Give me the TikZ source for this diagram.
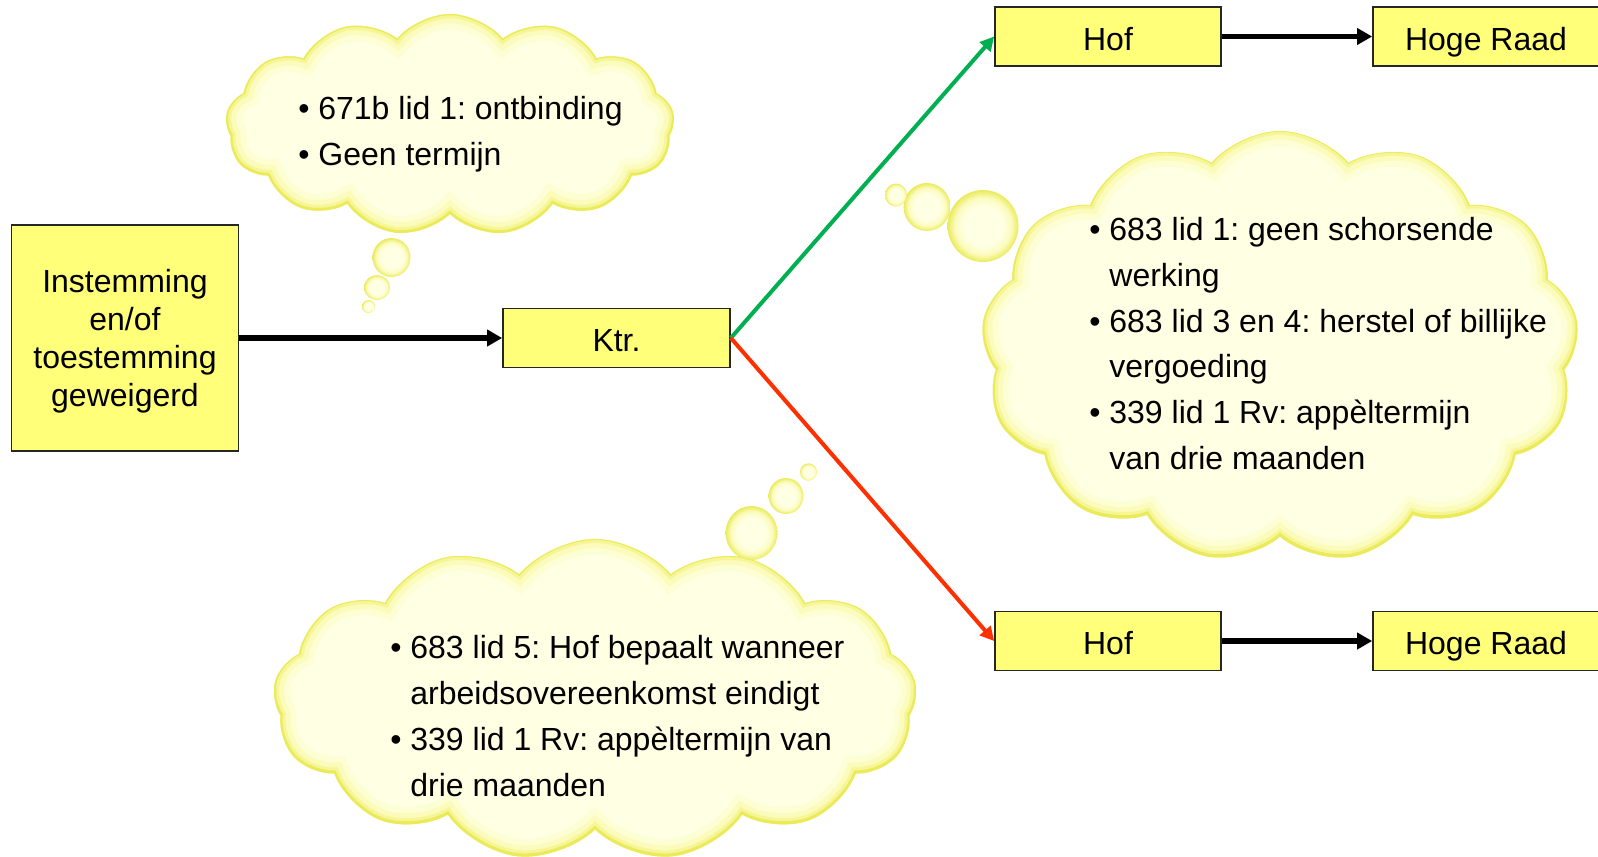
\documentclass[tikz,border=0pt]{standalone}
\usepackage{fontspec}
\setmainfont{Liberation Sans}
\usetikzlibrary{shapes.symbols,arrows.meta}
\definecolor{boxfill}{RGB}{255,255,122}
\definecolor{cpale}{RGB}{255,255,228}
\definecolor{gA}{RGB}{254,254,212}
\definecolor{gB}{RGB}{251,251,188}
\definecolor{gC}{RGB}{246,246,150}
\definecolor{gD}{RGB}{234,234,90}
\definecolor{arrgreen}{RGB}{0,176,80}
\definecolor{arrred}{RGB}{255,48,0}
\pgfdeclareradialshading{bubbleshade}{\pgfpoint{0bp}{0bp}}{color(0bp)=(cpale); color(14bp)=(cpale); color(20bp)=(gB); color(25bp)=(gD); color(50bp)=(gD)}
\newcommand\glowbubble[4]{\shade[shading=bubbleshade] (#1) ellipse[x radius=#2, y radius=#3];}
\tikzset{
  box/.style={draw=black!85, line width=0.85pt, fill=boxfill, inner sep=0pt,
    font=\fontsize{16}{19}\selectfont, align=center},
  onebox/.style={box, minimum width=113pt, minimum height=29.5pt, text height=13.8pt, text depth=0pt},
  cloudbase/.style 2 args={cloud, cloud puffs=13, cloud puff arc=100, cloud ignores aspect,
    minimum width=#1, minimum height=#2, inner sep=0pt, outer sep=0pt},
  glowcloud/.style 2 args={cloudbase={#1}{#2}, fill=cpale, path picture={
    \node[cloudbase={#1}{#2}, draw=gA, line width=16pt] at (path picture bounding box.center) {};
    \node[cloudbase={#1}{#2}, draw=gB, line width=10pt] at (path picture bounding box.center) {};
    \node[cloudbase={#1}{#2}, draw=gC, line width=5pt] at (path picture bounding box.center) {};
    \node[cloudbase={#1}{#2}, draw=gD, line width=2pt] at (path picture bounding box.center) {};
  }},
  cloudtext/.style={anchor=west, align=left, inner sep=0pt,
    font=\fontsize{16}{22.85}\selectfont},
  blackarrow/.style={line width=2.6pt, -{Triangle[length=7.5pt,width=8pt]}},
  colarrow/.style={line width=2pt, -{Triangle[length=7pt,width=7pt]}},
}
\newcommand\bul{\makebox[10pt][l]{\textbullet}}
\newcommand\ind{\hspace*{10pt}}
\frenchspacing
\begin{document}
\begin{tikzpicture}[x=0.5pt,y=-0.5pt]
\useasboundingbox (0,0) rectangle (1598,856);
\clip (0,0) rectangle (1598,856);

% clouds
\node[glowcloud={224.5pt}{111pt}] (c1) at (450,125) {};
\node[glowcloud={299pt}{216pt}] (c2) at (1280,347) {};
\node[glowcloud={322pt}{161pt}] (c3) at (595,700) {};

% thought bubbles
\coordinate (b1a) at (391.5,257.5);
\coordinate (b1b) at (377,287.5);
\coordinate (b1c) at (368.5,306.5);
\glowbubble{b1a}{19}{19.5}{}
\glowbubble{b1b}{13}{12.5}{}
\glowbubble{b1c}{6.5}{6.5}{}
\coordinate (b2a) at (983,226);
\coordinate (b2b) at (927,207);
\coordinate (b2c) at (896,195);
\glowbubble{b2a}{35.5}{36}{}
\glowbubble{b2b}{23.5}{24}{}
\glowbubble{b2c}{11}{11.5}{}
\coordinate (b3a) at (751.5,533);
\coordinate (b3b) at (786,496);
\coordinate (b3c) at (808.5,472);
\glowbubble{b3a}{26}{27}{}
\glowbubble{b3b}{17.5}{18}{}
\glowbubble{b3c}{8.5}{8.7}{}

% cloud texts
\node[cloudtext] (t1) at (298,134.5) {\bul671b lid 1: ontbinding\\ \bul Geen termijn};
\node[cloudtext] (t2) at (1089,343.5) {\bul683 lid 1: geen schorsende\\ \ind werking\\ \bul683 lid 3 en 4: herstel of billijke\\ \ind vergoeding\\ \bul339 lid 1 Rv: app\`eltermijn\\ \ind van drie maanden};
\node[cloudtext] (t3) at (390,716) {\bul683 lid 5: Hof bepaalt wanneer\\ \ind arbeidsovereenkomst eindigt\\ \bul339 lid 1 Rv: app\`eltermijn van\\ \ind drie maanden};

% boxes
\node[box, minimum width=113.5pt, minimum height=113pt, text depth=-1.5pt] (inst) at (125,338) {Instemming\\en/of\\toestemming\\geweigerd};
\node[onebox, minimum width=113.5pt] (ktr) at (616.5,338) {Ktr.};
\node[onebox] (hof1) at (1108,36.5) {Hof};
\node[onebox] (hr1) at (1486,36.5) {Hoge Raad};
\node[onebox] (hof2) at (1108,641) {Hof};
\node[onebox] (hr2) at (1486,641) {Hoge Raad};

% connectors
\draw[blackarrow] (inst) -- (ktr);
\draw[colarrow, arrgreen] (ktr.east) -- (hof1.west);
\draw[colarrow, arrred] (ktr.east) -- (hof2.west);
\draw[blackarrow] (hof1) -- (hr1);
\draw[blackarrow] (hof2) -- (hr2);
\end{tikzpicture}
\end{document}
